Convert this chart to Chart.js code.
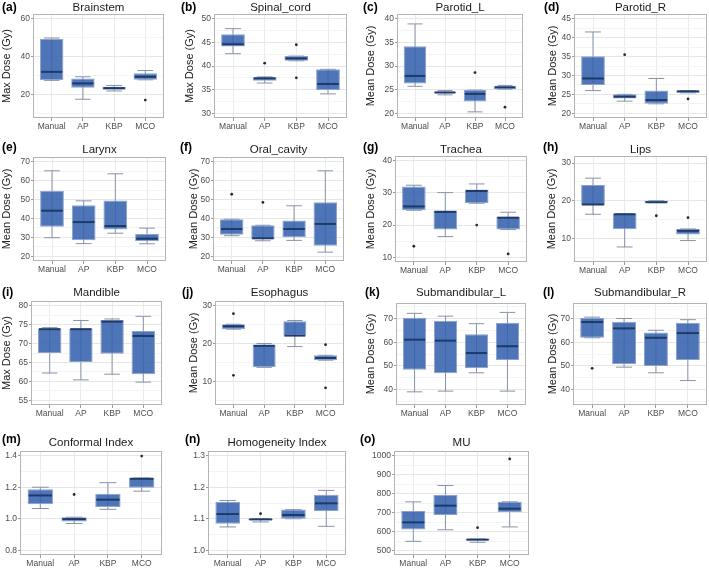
<!DOCTYPE html>
<html><head><meta charset="utf-8">
<script src="https://cdn.jsdelivr.net/npm/chart.js@4.4.0/dist/chart.umd.min.js"></script>
<style>
html,body{margin:0;padding:0;background:#fff;}
#wrap{position:relative;width:709px;height:569px;overflow:hidden;background:#fff;}
#wrap canvas{position:absolute;}
</style></head><body><div id="wrap"></div>
<script>
// ---------------- DATA ----------------
const categories = ['Manual', 'AP', 'KBP', 'MCO'];
const panelLetters = ['(a)','(b)','(c)','(d)','(e)','(f)','(g)','(h)','(i)','(j)','(k)','(l)','(m)','(n)','(o)'];
const panelTitles = ['Brainstem','Spinal_cord','Parotid_L','Parotid_R','Larynx','Oral_cavity','Trachea','Lips',
  'Mandible','Esophagus','Submandibular_L','Submandibular_R','Conformal Index','Homogeneity Index','MU'];
const yTitles = ['Max Dose (Gy)','Max Dose (Gy)','Mean Dose (Gy)','Mean Dose (Gy)','Mean Dose (Gy)','Mean Dose (Gy)',
  'Mean Dose (Gy)','Mean Dose (Gy)','Max Dose (Gy)','Mean Dose (Gy)','Mean Dose (Gy)','Mean Dose (Gy)','','',''];

// per panel, order: Manual, AP, KBP, MCO
const whiskerLow = [
  [27.4, 17.4, 21.8, 27.7], [42.6, 36.4, 41.1, 34.1], [25.7, 23.9, 20.3, 25.1], [26.0, 23.2, 22.5, 25.4],
  [29.8, 26.7, 32.2, 26.6], [30.9, 28.2, 28.4, 22.2], [24.6, 16.4, 26.8, 18.6], [16.4, 7.7, 19.5, 9.4],
  [62.2, 60.4, 61.9, 59.8], [23.8, 13.7, 19.2, 15.6], [38.9, 39.2, 47.0, 39.2], [61.9, 49.4, 47.0, 43.7],
  [1.065, 0.970, 1.060, 1.175], [1.074, 1.090, 1.100, 1.076], [549, 610, 544, 625]];
const quartile1 = [
  [27.4, 23.5, 22.5, 27.7], [44.1, 36.9, 41.1, 34.9], [26.3, 24.2, 22.5, 25.1], [27.5, 23.9, 22.5, 25.4],
  [35.6, 28.5, 34.2, 27.9], [31.4, 29.1, 30.1, 25.5], [24.6, 18.6, 26.8, 18.6], [18.8, 12.4, 19.5, 11.0],
  [67.5, 65.1, 67.3, 61.9], [23.8, 13.8, 22.1, 15.6], [48.3, 46.8, 48.9, 52.4], [61.9, 50.7, 49.9, 52.4],
  [1.092, 0.983, 1.075, 1.196], [1.084, 1.095, 1.100, 1.125], [612, 688, 554, 703]];
const medians = [
  [31.9, 25.8, 23.3, 29.3], [44.6, 37.4, 41.6, 36.2], [27.9, 24.4, 24.1, 25.5], [29.2, 24.4, 23.5, 25.8],
  [44.1, 38.1, 36.0, 29.3], [34.4, 29.5, 34.4, 37.1], [25.8, 24.1, 30.6, 22.3], [19.0, 16.4, 19.6, 12.0],
  [73.8, 73.8, 75.8, 72.0], [24.6, 19.4, 22.1, 16.2], [61.1, 60.7, 55.4, 58.3], [68.6, 65.9, 61.9, 63.9],
  [1.148, 0.998, 1.121, 1.254], [1.115, 1.098, 1.112, 1.149], [649, 737, 558, 721]];
const quartile3 = [
  [49.3, 28.4, 24.0, 31.1], [46.7, 37.6, 42.1, 39.3], [34.2, 24.6, 24.9, 25.7], [35.1, 25.0, 26.0, 26.0],
  [54.6, 47.0, 49.5, 31.8], [39.6, 36.4, 38.9, 48.6], [32.0, 24.5, 31.1, 22.5], [24.2, 16.5, 20.0, 12.5],
  [74.0, 73.9, 76.2, 73.3], [25.1, 19.7, 25.9, 16.9], [70.4, 69.2, 63.4, 68.3], [70.3, 68.7, 64.1, 68.3],
  [1.188, 1.010, 1.158, 1.258], [1.154, 1.100, 1.129, 1.176], [709, 793, 561, 757]];
const whiskerHigh = [
  [49.8, 29.3, 24.7, 32.6], [47.9, 37.7, 42.1, 39.3], [38.9, 24.8, 24.9, 25.9], [41.5, 25.0, 29.2, 26.0],
  [65.2, 49.3, 63.6, 34.9], [39.6, 36.4, 46.7, 65.2], [32.4, 30.1, 32.8, 24.0], [26.0, 16.5, 20.0, 12.5],
  [74.2, 76.1, 76.5, 77.2], [25.1, 20.0, 26.1, 16.9], [72.3, 71.1, 67.9, 72.7], [70.7, 70.1, 65.1, 69.6],
  [1.200, 1.010, 1.229, 1.258], [1.158, 1.100, 1.129, 1.190], [757, 843, 561, 757]];
// outliers: [categoryIndex, value]
const outliers = [
  [[3, 17.0]], [[1, 40.6], [2, 44.5], [2, 37.5]], [[2, 28.6], [3, 21.3]], [[1, 35.5], [3, 23.8]],
  [], [[0, 52.8], [1, 48.5]], [[0, 13.4], [2, 20.0], [3, 11.0]], [[2, 16.0], [3, 15.5]],
  [], [[0, 27.9], [0, 11.6], [3, 19.7], [3, 8.3]], [], [[0, 48.9]],
  [[1, 1.154], [3, 1.398]], [[1, 1.116]], [[2, 621], [3, 983]]];

// axis ranges and tick labels
const yMin = [7.5, 29, 19, 18.75, 17.5, 17.5, 8.5, 3.7, 53.75, 3.75, 33.3, 33.3, 0.77, 0.985, 477];
const yMax = [62.5, 51, 41, 46.25, 72.5, 72.5, 41.5, 31.9, 81.25, 31.25, 76.7, 76.7, 1.43, 1.315, 1025];
const yMajorStep = [20, 5, 5, 5, 10, 10, 10, 10, 5, 10, 10, 10, 0.2, 0.1, 100];
const yDecimals = [0, 0, 0, 0, 0, 0, 0, 0, 0, 0, 0, 0, 1, 1, 0];

// ---------------- LAYOUT ----------------
const FONT = '"Liberation Sans", Arial, Helvetica, sans-serif';
const colX = [0, 180, 358, 540], colW = [180, 178, 182, 169];
const rowY = [0, 140, 278, 418], rowH = [140, 138, 140, 151];
const plotRects = [
  [33,14,164,118],[214,14,347,118],[397,14,523,118],[574,14,707,118],
  [33,157,166,261],[213,157,344,261],[395,156,527,262],[574,156,707,262],
  [31,301,162,405],[215,301,344,405],[396,303,526,405],[573,303,707,405],
  [20,451,162,555],[208,451,346,555],[394,451,529,555]];
const titleYs = [8, 10, 15, 25];
const letterYs = [8, 8, 15, 22];
const letterXs = [2,1,5,4, 2,0,5,3, 2,2,7,3, 2,5,2];
const yTitlePad = [0,3,6,6, 0,7,6,5, 0,7,6,6, 0,0,0];

const boxFill = 'rgba(54,98,173,0.88)';
const boxBorder = 'rgba(140,162,202,1)';
const whiskerColor = '#8793a8';
const medianColor = '#1d3a6a';

const decor = {
  id: 'decor',
  afterDatasetsDraw(chart, args, o) {
    const {ctx, chartArea: a} = chart;
    ctx.save();
    ctx.strokeStyle = '#b4b4b4';
    ctx.lineWidth = 1;
    ctx.strokeRect(Math.round(a.left) + 0.5, Math.round(a.top) + 0.5,
      Math.round(a.right - a.left) - 1, Math.round(a.bottom - a.top) - 1);
    ctx.restore();
  },
  afterDraw(chart, args, o) {
    const {ctx, chartArea: a} = chart;
    ctx.save();
    ctx.textBaseline = 'middle';
    ctx.textAlign = 'center';
    ctx.fillStyle = '#1a1a1a';
    ctx.font = '11.5px ' + FONT;
    ctx.fillText(o.title, (a.left + a.right) / 2, o.titleY);
    ctx.textAlign = 'left';
    ctx.fillStyle = '#000';
    ctx.font = 'bold 12px ' + FONT;
    ctx.fillText(o.letter, o.letterX, o.letterY);
    ctx.restore();
  }
};

function unitPx(chart, u) {
  const x = chart.scales.x;
  return Math.abs(x.getPixelForValue(1 + u) - x.getPixelForValue(1));
}

const wrap = document.getElementById('wrap');
for (let i = 0; i < 15; i++) {
  const r = Math.floor(i / 4), c = i % 4;
  const cl = colX[c], ct = rowY[r], cw = colW[c], ch = rowH[r];
  const [pl, pt, pr, pb] = plotRects[i];
  const cv = document.createElement('canvas');
  cv.width = cw; cv.height = ch;
  cv.style.left = cl + 'px'; cv.style.top = ct + 'px';
  cv.style.width = cw + 'px'; cv.style.height = ch + 'px';
  wrap.appendChild(cv);

  const step = yMajorStep[i], half = step / 2;
  const isMajor = v => Math.abs(v / step - Math.round(v / step)) < 1e-6;
  const tickVals = [];
  for (let k = Math.ceil(yMin[i] / half - 1e-9); k * half <= yMax[i] + 1e-9; k++) {
    tickVals.push(Math.round(k * half * 10000) / 10000);
  }

  const lo = whiskerLow[i], q1 = quartile1[i], md = medians[i], q3 = quartile3[i], hi = whiskerHigh[i];
  const capPts = [];
  categories.forEach((cat, k) => { capPts.push({x: k + 1, y: lo[k]}); capPts.push({x: k + 1, y: hi[k]}); });

  new Chart(cv, {
    type: 'bar',
    data: {
      datasets: [
        { type: 'bar', data: categories.map((cat, k) => ({x: k + 1, y: [lo[k], hi[k]]})),
          backgroundColor: whiskerColor, maxBarThickness: 1, grouped: false,
          categoryPercentage: 1, barPercentage: 0.75, order: 5 },
        { type: 'line', data: capPts, showLine: false, pointStyle: 'line',
          pointRadius: ctx => unitPx(ctx.chart, 0.25), pointHoverRadius: ctx => unitPx(ctx.chart, 0.25),
          pointBorderColor: whiskerColor, pointBorderWidth: 1, order: 4 },
        { type: 'bar', data: categories.map((cat, k) => ({x: k + 1, y: [q1[k], q3[k]]})),
          backgroundColor: boxFill, borderColor: boxBorder, borderWidth: 1, borderSkipped: false,
          grouped: false, categoryPercentage: 1, barPercentage: 0.75, order: 3 },
        { type: 'line', data: categories.map((cat, k) => ({x: k + 1, y: md[k]})), showLine: false,
          pointStyle: 'line', pointRadius: ctx => unitPx(ctx.chart, 0.375) - 1,
          pointHoverRadius: ctx => unitPx(ctx.chart, 0.375) - 1,
          pointBorderColor: medianColor, pointBorderWidth: 2, order: 2 },
        { type: 'line', data: outliers[i].map(p => ({x: p[0] + 1, y: p[1]})), showLine: false,
          pointStyle: 'circle', pointRadius: 1.4, pointHoverRadius: 1.4,
          pointBackgroundColor: '#2a2a2a', pointBorderWidth: 0, order: 1 }
      ]
    },
    options: {
      responsive: false, animation: false, events: [],
      devicePixelRatio: 1,
      layout: { padding: { left: 0, top: pt - ct, right: cl + cw - pr, bottom: 0 } },
      plugins: {
        legend: { display: false }, tooltip: { enabled: false },
        decor: { title: panelTitles[i], letter: panelLetters[i], titleY: titleYs[r],
                 letterX: letterXs[i], letterY: letterYs[r] }
      },
      scales: {
        x: {
          type: 'linear', min: 0.4, max: 4.6, offset: false,
          afterBuildTicks: s => { s.ticks = categories.map((cat, k) => ({value: k + 1})); },
          afterFit: s => { s.height = ch - (pb - ct); },
          ticks: { callback: v => categories[Math.round(v) - 1] || '', font: {size: 8.5, family: FONT},
                   color: '#4d4d4d', padding: 1, maxRotation: 0, autoSkip: false },
          grid: { color: '#ebebeb', tickColor: '#9a9a9a', tickLength: 3, offset: false },
          border: { display: false }
        },
        y: {
          type: 'linear', min: yMin[i], max: yMax[i],
          afterBuildTicks: s => { s.ticks = tickVals.map(v => ({value: v})); },
          afterFit: s => { s.width = pl - cl; },
          ticks: { callback: v => isMajor(v) ? Number(v).toFixed(yDecimals[i]) : '',
                   font: {size: 8.5, family: FONT}, color: '#4d4d4d', padding: 1, autoSkip: false },
          grid: { color: ctx => (ctx.tick && isMajor(ctx.tick.value)) ? '#e6e6e6' : '#f4f4f4',
                  tickColor: ctx => (ctx.tick && isMajor(ctx.tick.value)) ? '#9a9a9a' : 'rgba(0,0,0,0)',
                  tickLength: 2 },
          border: { display: false },
          title: { display: !!yTitles[i], text: yTitles[i], font: {size: 11, family: FONT}, color: '#222',
                   padding: {top: yTitlePad[i], bottom: 0} }
        }
      }
    },
    plugins: [decor]
  });
}
</script></body></html>
